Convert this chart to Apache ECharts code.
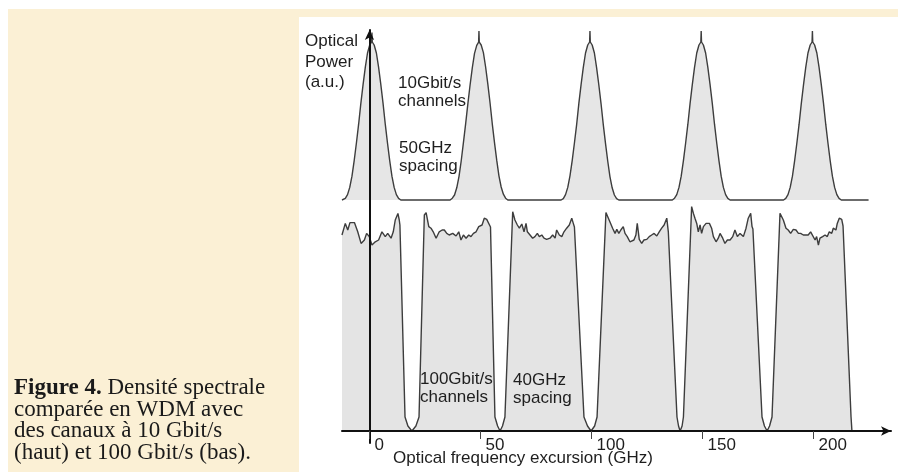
<!DOCTYPE html>
<html>
<head>
<meta charset="utf-8">
<script src="https://cdn.jsdelivr.net/npm/echarts@6/dist/echarts.min.js"></script>
<style>
  html, body { margin: 0; padding: 0; background: #ffffff; }
  #cream { position: absolute; left: 8px; top: 9px; width: 890px; height: 463px; background: #fbf0d5; }
  #plotbg { position: absolute; left: 299px; top: 17px; width: 599px; height: 455px; background: #ffffff; }
  #chart { position: absolute; left: 0; top: 0; width: 898px; height: 472px; }
</style>
</head>
<body>
<div id="cream"></div>
<div id="plotbg"></div>
<div id="chart"></div>
<script>
// ---- Data (frequency in GHz, optical power in arbitrary units) ----
const tickValues = [0, 50, 100, 150, 200];
const tickLabels = ['0', '50', '100', '150', '200'];

// 10 Gbit/s channels, 50 GHz spacing (upper trace, baseline at 57.75 a.u.)
const topBaseline = 57.75;
const tenGbitTrace = [
  [-12.4,57.75],[-11.9,57.75],[-10.9,58.15],[-9.9,59.1],[-8.9,60.9],[-7.9,63.7],[-6.9,67.6],[-5.9,72.0],[-4.9,76.7],[-3.9,81.9],[-2.9,86.6],[-1.9,90.9],[-0.9,94.5],[0.1,96.5],[0.95,97.25],[1.1,99.6],[1.25,97.25],[2.1,96.5],[3.1,94.5],[4.1,90.9],[5.1,86.6],[6.1,81.9],[7.1,76.7],[8.1,72.0],[9.1,67.6],[10.1,63.7],[11.1,60.9],[12.1,59.1],[13.1,58.15],[14.1,57.75],
  [36.3,57.75],[37.3,58.2],[38.3,59.0],[39.3,60.8],[40.3,63.6],[41.3,67.5],[42.3,72.1],[43.3,76.8],[44.3,81.8],[45.3,86.5],[46.3,90.8],[47.3,94.4],[48.3,96.4],[49.15,97.2],[49.3,100.0],[49.45,97.2],[50.3,96.5],[51.3,94.6],[52.3,91.0],[53.3,86.7],[54.3,82.0],[55.3,76.8],[56.3,72.1],[57.3,67.7],[58.3,63.8],[59.3,61.0],[60.3,59.2],[61.3,58.2],[62.3,57.75],
  [86.3,57.75],[87.3,58.1],[88.3,59.1],[89.3,60.9],[90.3,63.8],[91.3,67.6],[92.3,72.0],[93.3,76.6],[94.3,81.9],[95.3,86.6],[96.3,90.9],[97.3,94.5],[98.3,96.5],[99.15,97.25],[99.3,100.0],[99.45,97.25],[100.3,96.5],[101.3,94.5],[102.3,90.8],[103.3,86.5],[104.3,81.8],[105.3,76.6],[106.3,71.9],[107.3,67.5],[108.3,63.6],[109.3,60.8],[110.3,59.0],[111.3,58.1],[112.3,57.75],
  [136.4,57.75],[137.4,58.2],[138.4,59.1],[139.4,60.9],[140.4,63.7],[141.4,67.6],[142.4,72.0],[143.4,76.7],[144.4,81.9],[145.4,86.6],[146.4,90.9],[147.4,94.5],[148.4,96.5],[149.25,97.25],[149.4,100.0],[149.55,97.25],[150.4,96.5],[151.4,94.5],[152.4,90.9],[153.4,86.6],[154.4,81.9],[155.4,76.7],[156.4,72.0],[157.4,67.6],[158.4,63.7],[159.4,60.9],[160.4,59.1],[161.4,58.15],[162.4,57.75],
  [186.5,57.75],[187.5,58.15],[188.5,59.1],[189.5,60.9],[190.5,63.7],[191.5,67.6],[192.5,72.0],[193.5,76.7],[194.5,81.9],[195.5,86.6],[196.5,90.9],[197.5,94.5],[198.5,96.5],[199.35,97.25],[199.5,100.0],[199.65,97.25],[200.5,96.5],[201.5,94.5],[202.5,90.9],[203.5,86.6],[204.5,81.9],[205.5,76.7],[206.5,72.0],[207.5,67.6],[208.5,63.7],[209.5,60.9],[210.5,59.1],[211.5,58.15],[212.5,57.75],[224.8,57.75]
];

// 100 Gbit/s channels, 40 GHz spacing (lower trace, baseline at 0)
const hundredGbitTrace = [
  [-12.4,49.0],[-11.8,49.4],[-10.9,51.9],[-9.8,50.25],[-8.8,52.1],[-6.8,52.1],[-5.3,49.8],[-3.8,46.9],[-2.3,47.75],[-1.3,49.4],[-0.1,48.6],[1.1,46.5],[2.6,47.3],[4.1,47.75],[5.6,49.8],[7.1,48.6],[8.2,49.4],[9.7,48.2],[10.7,49.8],[11.6,52.75],[12.8,54.4],[13.4,52.75],[13.7,51.5],[16.0,3.5],[17.3,1.25],[19.1,0],[20.9,1.25],[22.3,3.5],
  [24.7,54.0],[25.5,54.6],[26.7,51.1],[27.7,50.7],[28.7,49.8],[30.0,48.2],[31.4,49.8],[32.7,50.25],[33.7,50.25],[34.8,49.4],[35.9,49.0],[37.5,49.4],[39.0,48.75],[40.2,49.8],[41.2,47.75],[42.3,49.0],[43.5,48.2],[44.7,49.0],[45.7,48.6],[46.8,49.4],[48.0,49.8],[49.2,51.1],[50.7,51.5],[51.7,53.2],[52.8,52.9],[53.4,52.75],[54.5,51.0],[56.5,3.5],[57.7,1.25],[58.8,0],[59.9,1.25],[61.0,3.5],
  [64.5,54.8],[65.5,52.75],[66.6,51.5],[67.5,50.7],[68.6,51.75],[69.6,49.8],[70.5,51.9],[71.1,49.8],[72.3,49.0],[73.5,48.2],[74.5,48.6],[75.6,49.4],[76.5,48.6],[77.6,49.0],[78.6,48.2],[79.8,47.9],[81.3,48.2],[82.5,49.0],[83.6,48.2],[84.3,50.25],[85.5,49.0],[86.6,48.6],[87.6,49.8],[88.8,50.7],[90.0,51.5],[91.1,53.2],[91.8,51.9],[92.3,51.0],[96.6,3.5],[98.2,1.25],[99.8,0],[101.4,1.25],[102.5,3.5],
  [106.5,54.6],[107.6,53.2],[108.6,51.9],[109.5,50.7],[110.6,49.4],[111.4,50.4],[112.3,49.4],[113.2,50.25],[114.3,51.1],[115.1,49.4],[116.1,48.6],[117.3,47.3],[118.2,46.9],[119.1,47.75],[120.0,49.0],[120.6,51.9],[121.5,47.9],[122.6,46.9],[123.6,47.75],[124.9,47.9],[126.0,48.6],[127.1,49.0],[128.2,49.4],[129.4,48.75],[130.5,49.8],[131.6,50.7],[132.7,51.5],[133.9,53.2],[134.6,49.8],[138.5,3.5],[139.2,1.25],[139.9,0],[140.8,1.25],[141.4,3.5],
  [145.1,56.1],[145.9,54.4],[146.6,53.2],[147.4,51.9],[148.1,49.8],[148.9,51.5],[149.6,49.4],[150.4,51.1],[151.6,51.9],[153.1,51.9],[154.1,50.7],[154.9,48.6],[156.1,47.3],[157.1,48.2],[157.9,49.4],[159.1,48.2],[160.1,46.9],[161.2,47.75],[162.4,47.75],[163.6,48.6],[164.6,50.25],[165.7,48.6],[166.9,49.4],[168.4,48.6],[169.6,50.7],[170.6,53.2],[171.7,54.4],[172.3,51.1],[172.7,50.5],[176.8,3.5],[177.9,1.25],[179.1,0],[180.2,1.25],[181.3,3.5],
  [184.9,54.4],[185.7,54.6],[186.4,52.75],[187.6,50.7],[188.6,50.25],[189.7,49.4],[190.9,50.4],[192.1,50.25],[193.2,49.4],[194.2,49.4],[195.4,49.0],[196.6,49.0],[197.6,49.0],[198.7,49.8],[199.6,49.8],[200.7,47.75],[201.4,48.6],[202.2,46.5],[202.9,48.2],[204.1,48.6],[205.2,49.0],[206.2,48.6],[207.1,49.8],[208.2,49.4],[208.9,50.7],[210.1,50.25],[210.7,51.9],[211.6,53.2],[212.7,52.9],[213.3,51.25],[216.9,3.5],[217.3,0]
];

const yAxisLines = ['Optical', 'Power', '(a.u.)'];
const xAxisTitle = 'Optical frequency excursion (GHz)';
const topNote = ['10Gbit/s', 'channels', '50GHz', 'spacing'];
const bottomNote = ['100Gbit/s', 'channels', '40GHz', 'spacing'];
const captionLines = ['Densité spectrale', 'comparée en WDM avec', 'des canaux à 10 Gbit/s', '(haut) et 100 Gbit/s (bas).'];
const captionLead = 'Figure 4.';

// ---- Chart ----
const SANS = '"Liberation Sans", Arial, sans-serif';
const SERIF = '"Liberation Serif", "Times New Roman", serif';
const TXT = '#1e1e1e';
const CAP = '#1a1a1a';

function label(text, x, y, opts) {
  opts = opts || {};
  return {
    type: 'text', x: x, y: y, z: 20, silent: true,
    style: {
      text: text, fill: opts.color || TXT,
      fontSize: opts.size || 17, fontFamily: opts.family || SANS,
      fontWeight: opts.weight || 'normal',
      align: 'left', textAlign: 'left',
      verticalAlign: 'middle', textVerticalAlign: 'middle',
      rich: opts.rich
    }
  };
}

const graphics = [
  label(yAxisLines[0], 305, 41),
  label(yAxisLines[1], 305, 62),
  label(yAxisLines[2], 305, 82),
  label(topNote[0], 398, 83),
  label(topNote[1], 398, 101),
  label(topNote[2], 399, 148),
  label(topNote[3], 399, 166),
  label(bottomNote[0], 420, 379),
  label(bottomNote[1], 420, 397),
  label(bottomNote[2], 513, 380),
  label(bottomNote[3], 513, 398),
  label(xAxisTitle, 393, 458),
  label('{b|' + captionLead + '} ' + captionLines[0], 14, 388, {family: SERIF, size: 23, color: CAP,
    rich: {b: {fontWeight: 'bold', fontFamily: SERIF, fontSize: 23, fill: CAP, color: CAP}}}),
  label(captionLines[1], 14, 410, {family: SERIF, size: 23, color: CAP}),
  label(captionLines[2], 14, 431, {family: SERIF, size: 23, color: CAP}),
  label(captionLines[3], 14, 453, {family: SERIF, size: 23, color: CAP})
];

const chart = echarts.init(document.getElementById('chart'), null, {renderer: 'canvas'});
chart.setOption({
  animation: false,
  backgroundColor: 'transparent',
  grid: {left: 342, right: 7, top: 30, bottom: 29, containLabel: false},
  xAxis: {
    type: 'value', min: -12.39, max: 234.9, z: 5,
    axisLine: {onZero: true, symbol: ['none', 'arrow'], symbolSize: [7, 10],
      lineStyle: {color: '#111', width: 2}},
    axisTick: {show: true, customValues: tickValues, length: 8, lineStyle: {color: '#444', width: 1}},
    axisLabel: {show: true, customValues: tickValues,
      formatter: function (v) { const i = tickValues.indexOf(v); return i >= 0 ? tickLabels[i] : ''; },
      align: 'left', verticalAlign: 'middle', lineHeight: 17, padding: [0, 0, 0, 5], margin: 2,
      fontSize: 17, fontFamily: SANS, color: TXT},
    splitLine: {show: false}
  },
  yAxis: {
    type: 'value', min: -3, max: 100.25, z: 5,
    axisLine: {onZero: true, symbol: ['none', 'arrow'], symbolSize: [7, 10],
      lineStyle: {color: '#111', width: 2}},
    axisTick: {show: false}, axisLabel: {show: false}, splitLine: {show: false}
  },
  series: [
    {
      type: 'line', data: tenGbitTrace, showSymbol: false, z: 2, silent: true,
      lineStyle: {color: '#3d3d3d', width: 1.4},
      areaStyle: {color: '#e6e6e6', opacity: 1, origin: topBaseline}
    },
    {
      type: 'line', data: hundredGbitTrace, showSymbol: false, z: 2, silent: true,
      lineStyle: {color: '#3d3d3d', width: 1.4},
      areaStyle: {color: '#e4e4e4', opacity: 1, origin: 'auto'}
    }
  ],
  graphic: graphics
});
</script>
</body>
</html>
